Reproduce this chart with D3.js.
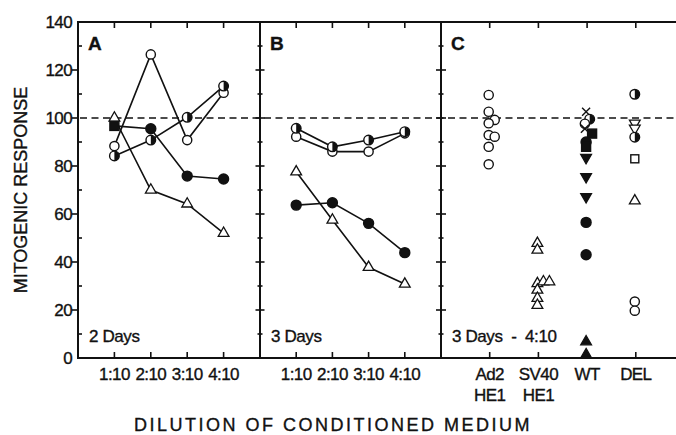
<!DOCTYPE html>
<html>
<head>
<meta charset="utf-8">
<script src="https://cdn.jsdelivr.net/npm/d3@7"></script>
<style>
  body { margin: 0; background: #fff; }
  svg text { font-family: "Liberation Sans", Arial, sans-serif; fill: #111; stroke: #111; stroke-width: 0.35px; }
</style>
</head>
<body>
<svg id="chart" width="676" height="435"></svg>
<script>
// dilutions on the x axis of panels A and B
const dilutions = ['1:10', '2:10', '3:10', '4:10']
const yTicks = [0, 20, 40, 60, 80, 100, 120, 140]

// panel A, 2 days
const aOpen = [88.3, 126.5, 90.8, 110.5]
const aHalf = [84.2, 90.8, 100.3, 113.3]
const aFilled = [96.7, 95.5, 75.8, 74.6]
const aTriangle = [100, 70, 64.2, 52]

// panel B, 3 days
const bHalf = [95.7, 88, 90.8, 94.3]
const bOpen = [92.2, 86, 86, 93.6]
const bTriangle = [77.6, 57.5, 37.8, 30.8]
const bFilled = [63.7, 64.7, 56.1, 43.9]

// panel C, 3 days at 4:10. slot = side by side index when points overlap
const cGroups = [['Ad2', 'HE1'], ['SV40', 'HE1'], ['WT'], ['DEL']]
const cAd2 = [
  {v: 109.6, m: 'open', slot: 0}, {v: 102.6, m: 'open', slot: 0}, {v: 99.2, m: 'open', slot: 1},
  {v: 97.8, m: 'open', slot: 0}, {v: 92.9, m: 'open', slot: 0}, {v: 92.2, m: 'open', slot: 1},
  {v: 88, m: 'open', slot: 0}, {v: 80.7, m: 'open', slot: 0}
]
const cSV40 = [
  {v: 47.8, m: 'tri', slot: 0}, {v: 45, m: 'tri', slot: 0}, {v: 31, m: 'tri', slot: 0},
  {v: 31.8, m: 'tri', slot: 1}, {v: 31.8, m: 'tri', slot: 2}, {v: 28.3, m: 'tri', slot: 0},
  {v: 24.9, m: 'tri', slot: 0}, {v: 22, m: 'tri', slot: 0}
]
const cWT = [
  {v: 102.6, m: 'cross', slot: 0}, {v: 99.5, m: 'half', slot: 0.6}, {v: 97.6, m: 'open', slot: -0.2},
  {v: 95.5, m: 'cross', slot: -0.2}, {v: 93.5, m: 'square', slot: 1}, {v: 90, m: 'dot', slot: 0},
  {v: 88, m: 'square', slot: 0}, {v: 83.5, m: 'tridown', slot: 0}, {v: 75.5, m: 'tridown', slot: 0},
  {v: 67.2, m: 'tridown', slot: 0}, {v: 56.5, m: 'dot', slot: 0}, {v: 43, m: 'dot', slot: 0},
  {v: 6.8, m: 'triup', slot: 0}, {v: 1.4, m: 'triup', slot: 0}
]
const cDEL = [
  {v: 109.9, m: 'half', slot: 0}, {v: 97.8, m: 'opendown', slot: 0}, {v: 95.7, m: 'opendown', slot: 0},
  {v: 92, m: 'half', slot: 0}, {v: 83, m: 'opensq', slot: 0}, {v: 65.5, m: 'tri', slot: 0},
  {v: 23.5, m: 'open', slot: 0}, {v: 19.7, m: 'open', slot: 0}
]

const svg = d3.select('#chart')
const ink = '#111'

const y = d3.scaleLinear().domain([0, 140]).range([358, 22])

const panels = [
  {name: 'A', note: '2 Days', left: 78, right: 260, series: [
    {vals: aTriangle, m: 'tri'}, {vals: aOpen, m: 'open'},
    {vals: aHalf, m: 'half'}, {vals: aFilled, m: 'dot', first: 'square'}]},
  {name: 'B', note: '3 Days', left: 260, right: 441, series: [
    {vals: bTriangle, m: 'tri'}, {vals: bFilled, m: 'dot'},
    {vals: bOpen, m: 'open'}, {vals: bHalf, m: 'half'}]},
  {name: 'C', note: '3 Days  -  4:10', left: 441, right: 684.5, groups: [cAd2, cSV40, cWT, cDEL]}
]
panels.forEach(p => {
  p.x = d3.scaleLinear().domain([0, 5]).range([p.left, p.right])
})

// dashed 100% line
svg.append('line')
  .attr('x1', 80).attr('x2', 676)
  .attr('y1', y(100)).attr('y2', y(100))
  .attr('stroke', ink).attr('stroke-width', 1.4)
  .attr('stroke-dasharray', '7,4.5')

// frame: top and bottom lines
const frame = svg.append('g').attr('stroke', ink).attr('stroke-width', 2)
frame.append('line').attr('x1', 77).attr('x2', 676).attr('y1', y(140)).attr('y2', y(140))
frame.append('line').attr('x1', 77).attr('x2', 676).attr('y1', y(0)).attr('y2', y(0))

// vertical axes, minor ticks every 10
const minor = d3.range(10, 140, 20)
function vAxis(xPos, majorIn, majorOut, minorIn, minorOut) {
  const g = svg.append('g').attr('stroke', ink)
  g.append('line').attr('x1', xPos).attr('x2', xPos).attr('y1', y(140) - 1).attr('y2', y(0) + 1)
    .attr('stroke-width', 2)
  g.selectAll('.maj').data(yTicks.slice(1, -1)).join('line')
    .attr('x1', xPos - majorOut).attr('x2', xPos + majorIn)
    .attr('y1', d => y(d)).attr('y2', d => y(d)).attr('stroke-width', 1.6)
  g.selectAll('.min').data(minor).join('line')
    .attr('x1', xPos - minorOut).attr('x2', xPos + minorIn)
    .attr('y1', d => y(d)).attr('y2', d => y(d)).attr('stroke-width', 1.6)
}
vAxis(78, 0, 6, 4, 0)
vAxis(260, 4.5, 4.5, 2.5, 2.5)
vAxis(441, 5, 5, 2.5, 2.5)

// y tick labels
svg.selectAll('.ylab').data(yTicks).join('text')
  .attr('x', 72).attr('y', d => y(d) + 6)
  .attr('text-anchor', 'end')
  .attr('font-size', 17).attr('letter-spacing', -0.6)
  .text(d => d)

// category ticks, labels and panel letters
panels.forEach(p => {
  const cats = p.groups ? cGroups : dilutions
  const g = svg.append('g').attr('stroke', ink).attr('stroke-width', 1.6)
  cats.forEach((c, i) => {
    const cx = p.x(i + 1)
    g.append('line').attr('x1', cx).attr('x2', cx).attr('y1', y(140)).attr('y2', y(140) + 6)
    g.append('line').attr('x1', cx).attr('x2', cx).attr('y1', y(0)).attr('y2', y(0) - 6)
    const lines = Array.isArray(c) ? c : [c]
    lines.forEach((t, k) => {
      svg.append('text')
        .attr('x', cx).attr('y', 380 + k * 21)
        .attr('text-anchor', 'middle')
        .attr('font-size', 17).attr('letter-spacing', -0.6)
        .text(t)
    })
  })
  svg.append('text')
    .attr('x', p.left + 10).attr('y', 50)
    .attr('font-size', 19).attr('font-weight', 'bold')
    .text(p.name)
  svg.append('text')
    .attr('x', p.left + 11).attr('y', 342)
    .attr('font-size', 17).attr('letter-spacing', -0.4)
    .attr('xml:space', 'preserve')
    .text(p.note)
})

// marker drawing
function marker(g, m, cx, cy) {
  const t = `translate(${cx},${cy})`
  if (m === 'open' || m === 'dot') {
    g.append('circle').attr('cx', cx).attr('cy', cy).attr('r', m === 'dot' ? 5 : 4.6)
      .attr('fill', m === 'dot' ? ink : '#fff').attr('stroke', ink).attr('stroke-width', 1.4)
  } else if (m === 'half') {
    g.append('circle').attr('cx', cx).attr('cy', cy).attr('r', 4.8)
      .attr('fill', '#fff').attr('stroke', ink).attr('stroke-width', 1.4)
    g.append('path').attr('transform', t)
      .attr('d', d3.arc()({innerRadius: 0, outerRadius: 4.8, startAngle: 0, endAngle: Math.PI}))
      .attr('fill', ink)
  } else if (m === 'tri' || m === 'triup' || m === 'tridown' || m === 'opendown') {
    const down = m === 'tridown' || m === 'opendown'
    const filled = m === 'triup' || m === 'tridown'
    g.append('path').attr('transform', t + (down ? ' rotate(180)' : ''))
      .attr('d', d3.symbol(d3.symbolTriangle, 50)())
      .attr('fill', filled ? ink : '#fff').attr('stroke', ink).attr('stroke-width', 1.3)
  } else if (m === 'square' || m === 'opensq') {
    const s = m === 'square' ? 9 : 8
    g.append('rect').attr('x', cx - s / 2).attr('y', cy - s / 2).attr('width', s).attr('height', s)
      .attr('fill', m === 'square' ? ink : '#fff').attr('stroke', ink).attr('stroke-width', 1.4)
  } else if (m === 'cross') {
    g.append('path').attr('transform', t)
      .attr('d', 'M-4,-4L4,4M4,-4L-4,4')
      .attr('stroke', ink).attr('stroke-width', 1.4)
  }
}

// panels A and B: connected series
panels.filter(p => p.series).forEach(p => {
  p.series.forEach(s => {
    const line = d3.line().x((d, i) => p.x(i + 1)).y(d => y(d))
    svg.append('path').attr('d', line(s.vals))
      .attr('fill', 'none').attr('stroke', ink).attr('stroke-width', 1.6)
  })
  p.series.forEach(s => {
    const g = svg.append('g')
    s.vals.forEach((v, i) => marker(g, i === 0 && s.first ? s.first : s.m, p.x(i + 1), y(v)))
  })
})

// panel C: scattered points per cell type
const pc = panels[2]
pc.groups.forEach((pts, i) => {
  const g = svg.append('g')
  pts.forEach(d => marker(g, d.m, pc.x(i + 1) - 1 + d.slot * 6, y(d.v)))
})

// axis titles
svg.append('text')
  .attr('transform', `translate(27,190) rotate(-90)`)
  .attr('text-anchor', 'middle')
  .attr('font-size', 18)
  .text('MITOGENIC RESPONSE')
svg.append('text')
  .attr('x', 333).attr('y', 431)
  .attr('text-anchor', 'middle')
  .attr('font-size', 18).attr('letter-spacing', 2.5)
  .text('DILUTION OF CONDITIONED MEDIUM')
</script>
</body>
</html>
